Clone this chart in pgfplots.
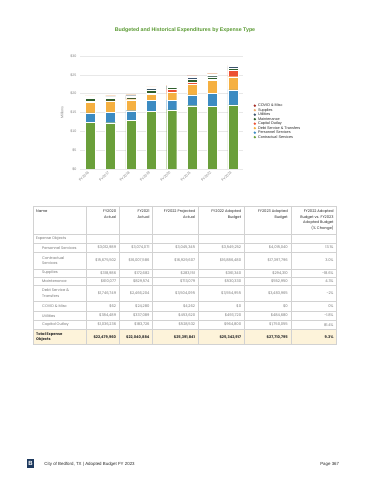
\documentclass[border=0pt]{standalone}
\usepackage{fontspec}
\setmainfont{Liberation Sans}
\newfontfamily\tabfont{Poppins}
\usepackage{pgfplots}
\pgfplotsset{compat=1.18}
\definecolor{cContr}{HTML}{6A9F3A}
\definecolor{cPers}{HTML}{3C8BC2}
\definecolor{cDebt}{HTML}{F5B041}
\definecolor{cCap}{HTML}{EC4F31}
\definecolor{cMaint}{HTML}{2F5F2C}
\definecolor{cUtil}{HTML}{3A536E}
\definecolor{cSupp}{HTML}{F0A868}
\definecolor{cCovid}{HTML}{A52A24}
\definecolor{titlegreen}{HTML}{5A9A32}
\definecolor{gridc}{HTML}{E8E8E8}
\definecolor{linec}{HTML}{D2D2D2}
\definecolor{txt}{HTML}{777777}
\definecolor{hdr}{HTML}{2A2A2A}
\definecolor{totfill}{HTML}{FDF3DA}
\definecolor{navy}{HTML}{1E3A5F}
\begin{document}
\begin{tikzpicture}[x=1pt,y=1pt]
\path[use as bounding box, fill=white] (0,0) rectangle (370,480);
\node[font=\bfseries\fontsize{5.3}{6}\selectfont, text=titlegreen] at (185,450) {Budgeted and Historical Expenditures by Expense Type};
\begin{axis}[
  at={(80pt,311pt)}, anchor=south west,
  scale only axis, width=163pt, height=113pt,
  ybar stacked, bar width=10pt,
  xmin=-0.5, xmax=7.5, ymin=0, ymax=30,
  ytick={0,5,10,15,20,25,30},
  yticklabels={\$0,\$5,\$10,\$15,\$20,\$25,\$30},
  xtick={0,1,2,3,4,5,6,7},
  xticklabels={FY2016,FY2017,FY2018,FY2019,FY2020,FY2021,FY2022,FY2023},
  axis line style={draw=none},
  major tick length=0pt,
  ymajorgrids, grid style={gridc, line width=0.4pt},
  tick label style={font=\fontsize{3.6}{4}\selectfont, text=gray},
  xticklabel style={rotate=45, anchor=east, yshift=-1pt},
  ylabel={Millions},
  ylabel style={at={(axis description cs:-0.11,0.5)}, anchor=center, font=\fontsize{3.6}{4}\selectfont, text=gray},
  legend style={at={(axis description cs:1.045,0.6)}, anchor=north west, draw=none, fill=none,
    font=\fontsize{3.8}{4}\selectfont, text=hdr,
    nodes={inner sep=0.4pt, text height=2.8pt, text depth=0.9pt},
    /tikz/every odd column/.append style={column sep=1.5pt}},
  legend cell align=left,
  reverse legend,
  legend image code/.code={\path[#1, draw=none] (0.8pt,0pt) circle (1.3pt);},
  every axis plot/.append style={draw=white, line width=0.2pt},
]
\addplot[fill=cContr] coordinates {(0,12.4) (1,12.3) (2,12.9) (3,15.3) (4,15.7) (5,16.8) (6,16.6) (7,17.0)};
\addplot[fill=cPers] coordinates {(0,2.5) (1,2.8) (2,2.6) (3,2.9) (4,2.6) (5,2.9) (6,3.5) (7,4.0)};
\addplot[fill=cDebt] coordinates {(0,2.8) (1,2.8) (2,2.9) (3,1.7) (4,2.0) (5,2.8) (6,3.5) (7,3.5)};
\addplot[fill=cCap] coordinates {(0,0.3) (1,0.2) (2,0.2) (3,0.2) (4,0.9) (5,0.5) (6,0.2) (7,1.7)};
\addplot[fill=cMaint] coordinates {(0,0.7) (1,0.7) (2,0.5) (3,0.9) (4,0.45) (5,0.8) (6,0.7) (7,0.55)};
\addplot[fill=cUtil] coordinates {(0,0.4) (1,0.35) (2,0.35) (3,0.5) (4,0.35) (5,0.5) (6,0.45) (7,0.45)};
\addplot[fill=cSupp] coordinates {(0,0.3) (1,0.3) (2,0.3) (3,0.3) (4,0.3) (5,0.4) (6,0.35) (7,0.3)};
\addplot[fill=cCovid] coordinates {(0,0) (1,0) (2,0) (3,0) (4,0) (5,0.05) (6,0.02) (7,0)};
\legend{Contractual Services, Personnel Services, Debt Service \& Transfers, Capital Outlay, Maintenance, Utilities, Supplies, COVID \& Misc}
\end{axis}
% ---------- table ----------
\fill[totfill] (33,150.7) rectangle (336.7,135.7);
\foreach \yy in {274,246,236.7,228,211,203,194.3,179,169,159.7,150.7,135.7}
  \draw[linec, line width=0.5pt] (33,\yy) -- (336.7,\yy);
\foreach \xx in {33,86,119.3,152.7,198.3,244.3,291,336.7}
  \draw[linec, line width=0.5pt] (\xx,274) -- (\xx,135.7);
\begin{scope}[every node/.style={font=\tabfont\fontsize{3.7}{5.6}\selectfont, inner sep=0pt}]
\node[anchor=north west, text=hdr] at (36,270.5) {Name};
\foreach \r/\t in {116.3/{FY2020\\Actual},149.7/{FY2021\\Actual},195.3/{FY2022 Projected\\Actual},241.3/{FY2022 Adopted\\Budget},288/{FY2023 Adopted\\Budget},333.7/{FY2022 Adopted\\Budget vs. FY2023\\Adopted Budget\\(\% Change)}}
  \node[anchor=north east, align=right, text=hdr] at (\r,270.5) {\t};
\node[anchor=west, text=txt] at (36,241.35) {Expense Objects};
\node[anchor=west, text=txt] at (42,232.35) {Personnel Services};
\node[anchor=west, text=txt, align=left] at (42,219.5) {Contractual\\Services};
\node[anchor=west, text=txt] at (42,207) {Supplies};
\node[anchor=west, text=txt] at (42,198.65) {Maintenance};
\node[anchor=west, text=txt, align=left] at (42,186.65) {Debt Service \&\\Transfers};
\node[anchor=west, text=txt] at (42,174) {COVID \& Misc};
\node[anchor=west, text=txt] at (42,164.35) {Utilities};
\node[anchor=west, text=txt] at (42,155.2) {Capital Outlay};
\node[anchor=west, text=hdr, align=left, font=\tabfont\bfseries\fontsize{3.7}{5.2}\selectfont] at (36,143.2) {Total Expense\\Objects};
\foreach \y/\a/\b/\c/\d/\e/\f in {
  232.35/{\$3,012,989}/{\$3,074,071}/{\$3,045,345}/{\$3,549,252}/{\$4,015,040}/{13.1\%},
  219.5/{\$15,675,502}/{\$16,007,586}/{\$16,929,607}/{\$16,886,480}/{\$17,397,796}/{3.0\%},
  207/{\$318,986}/{\$172,682}/{\$283,151}/{\$361,340}/{\$294,310}/{-18.6\%},
  198.65/{\$610,077}/{\$829,574}/{\$713,079}/{\$530,330}/{\$552,950}/{4.3\%},
  186.65/{\$1,746,749}/{\$2,466,204}/{\$3,504,095}/{\$3,554,955}/{\$3,483,965}/{-2\%},
  174/{\$62}/{\$24,280}/{\$4,262}/{\$0}/{\$0}/{0\%},
  164.35/{\$384,489}/{\$337,089}/{\$453,620}/{\$493,720}/{\$484,680}/{-1.8\%},
  155.2/{\$1,036,236}/{\$183,726}/{\$528,532}/{\$964,800}/{\$1,750,055}/{81.4\%}}
{
  \node[anchor=east, text=txt] at (116.3,\y) {\a};
  \node[anchor=east, text=txt] at (149.7,\y) {\b};
  \node[anchor=east, text=txt] at (195.3,\y) {\c};
  \node[anchor=east, text=txt] at (241.3,\y) {\d};
  \node[anchor=east, text=txt] at (288,\y) {\e};
  \node[anchor=east, text=txt] at (333.7,\y) {\f};
}
\begin{scope}[every node/.append style={font=\tabfont\bfseries\fontsize{3.7}{5}\selectfont, text=hdr, anchor=east}]
\node at (116.3,143.2) {\$22,479,960};
\node at (149.7,143.2) {\$22,040,884};
\node at (195.3,143.2) {\$25,391,841};
\node at (241.3,143.2) {\$25,342,917};
\node at (288,143.2) {\$27,710,795};
\node at (333.7,143.2) {9.3\%};
\end{scope}
\end{scope}
% ---------- footer ----------
\fill[navy] (26.7,12) rectangle (34.3,21);
\node[text=white, font=\bfseries\fontsize{6}{6}\selectfont, inner sep=0pt] at (30.5,16.5) {B};
\node[anchor=west, inner sep=0pt, text=hdr, font=\fontsize{4.4}{5}\selectfont] at (44.3,16) {City of Bedford, TX | Adopted Budget FY 2023};
\node[anchor=east, inner sep=0pt, text=hdr, font=\fontsize{4.4}{5}\selectfont] at (339.3,16) {Page 367};
\end{tikzpicture}
\end{document}
